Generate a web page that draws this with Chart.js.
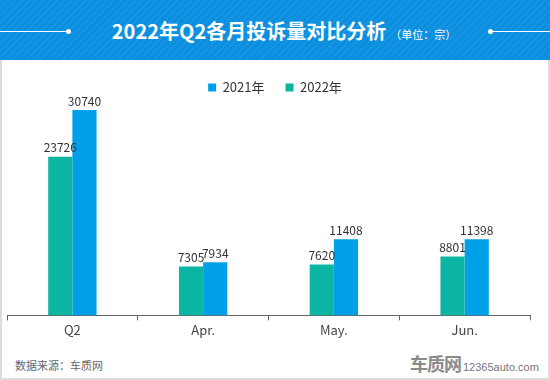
<!DOCTYPE html>
<html lang="zh-CN">
<head>
<meta charset="UTF-8">
<title>2022年Q2各月投诉量对比分析</title>
<style>
  body { margin: 0; width: 550px; height: 380px; background: #fff; font-family: "Noto Sans CJK SC", sans-serif; overflow: hidden; position: relative; }
  /* 顶部标题栏 */
  .header { position: absolute; left: 0; top: 0; width: 550px; height: 60px; background: #0a8ee0;
    background-image: repeating-linear-gradient(135deg, rgba(255,255,255,0.05) 0 2px, rgba(0,0,0,0) 2px 5px); }
  .header .title { position: absolute; left: 18px; right: 0; top: 17px; text-align: center; color: #fff; font-size: 20px; font-weight: bold; line-height: 28px; }
  .header .title small { font-size: 11px; font-weight: normal; margin-left: 4px; }
  .header .line { position: absolute; top: 31px; height: 1px; background: #fff; }
  .header .dot { position: absolute; top: 29px; width: 5px; height: 5px; border-radius: 50%; background: #fff; }
  .frame { position: absolute; left: 0; top: 60px; width: 546px; height: 318px; border: 2px solid #dcdcdc; border-top: none; }
  .chart-box { position: absolute; left: 0; top: 47px; width: 550px; height: 293px; }
  .source { position: absolute; left: 15px; top: 357px; font-size: 11px; color: #666; }
  .logo { position: absolute; left: 410px; top: 350px; color: #888; white-space: nowrap; }
  .logo b { font-size: 18px; letter-spacing: -1px; font-weight: bold; color: #8a8a8a; }
  .logo span { font-size: 11px; margin-left: 2px; color: #777; font-family: "Liberation Sans", sans-serif; }
</style>
</head>
<body>
  <div class="header">
    <div class="line" style="left:0;width:68px"></div><div class="dot" style="left:66px"></div>
    <div class="title">2022年Q2各月投诉量对比分析<small>（单位：宗）</small></div>
    <div class="dot" style="left:488px"></div><div class="line" style="left:490px;width:60px"></div>
  </div>
  <div class="frame"></div>
  <div class="chart-box"><canvas id="chart"></canvas></div>
  <div class="source">数据来源：车质网</div>
  <div class="logo"><b>车质网</b><span>12365auto.com</span></div>

  <script src="https://cdn.jsdelivr.net/npm/chart.js"></script>
  <script>
    // 数据
    const categories = ['Q2', 'Apr.', 'May.', 'Jun.'];
    const values2022 = [23726, 7305, 7620, 8801];
    const values2021 = [30740, 7934, 11408, 11398];

    // 柱顶数值
    const valueLabels = {
      id: 'valueLabels',
      afterDatasetsDraw(chart) {
        const ctx = chart.ctx;
        ctx.save();
        ctx.font = '12px "Noto Sans CJK SC", sans-serif';
        ctx.fillStyle = '#333';
        ctx.textAlign = 'center';
        ctx.textBaseline = 'bottom';
        chart.data.datasets.forEach((ds, i) => {
          chart.getDatasetMeta(i).data.forEach((bar, j) => {
            ctx.fillText(ds.data[j], bar.x, bar.y - 3);
          });
        });
        ctx.restore();
      }
    };

    // 图例居中于整个画布（而不是绘图区）
    const legendCenter = {
      id: 'legendCenter',
      afterLayout(chart) {
        const lg = chart.legend;
        const shift = chart.width / 2 - (lg.left + lg.right) / 2;
        lg.left += shift;
        lg.right += shift;
      }
    };

    new Chart(document.getElementById('chart'), {
      type: 'bar',
      data: {
        labels: categories,
        datasets: [
          { label: '2022年', data: values2022, backgroundColor: '#0bb5a4' },
          { label: '2021年', data: values2021, backgroundColor: '#00a0e9' }
        ]
      },
      options: {
        responsive: true, maintainAspectRatio: false, animation: false,
        categoryPercentage: 0.37, barPercentage: 1,
        layout: { padding: { left: 7, right: 20, top: 13, bottom: 0 } },
        scales: {
          x: {
            grid: { drawOnChartArea: false, drawTicks: true, tickLength: 5, color: '#666' },
            border: { color: '#666', width: 1 },
            ticks: { color: '#444', font: { size: 13, family: '"Noto Sans CJK SC", sans-serif' }, padding: 2 }
          },
          y: { display: false, min: 0, max: 31630 }
        },
        plugins: {
          legend: {
            reverse: true,
            labels: { boxWidth: 8, boxHeight: 8, padding: 21, color: '#333', font: { size: 13, family: '"Noto Sans CJK SC", sans-serif' } }
          },
          tooltip: { enabled: false }
        }
      },
      plugins: [valueLabels, legendCenter]
    });
  </script>
</body>
</html>
